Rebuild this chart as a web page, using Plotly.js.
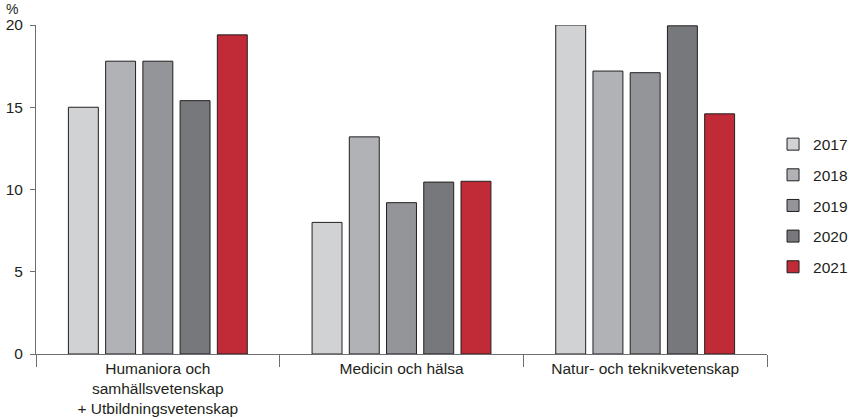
<!DOCTYPE html>
<html>
<head>
<meta charset="utf-8">
<script src="https://cdn.plot.ly/plotly-3.0.1.min.js"></script>
<style>html,body{margin:0;padding:0;background:#fff;}#chart{width:848px;height:417px;}</style>
</head>
<body>
<div id="chart"></div>
<script>
const categories = ["Humaniora och<br>samhällsvetenskap<br>+ Utbildningsvetenskap", "Medicin och hälsa", "Natur- och teknikvetenskap"];
const years = ["2017", "2018", "2019", "2020", "2021"];
const v2017 = [15.0, 8.0, 20.0];
const v2018 = [17.8, 13.2, 17.2];
const v2019 = [17.8, 9.2, 17.1];
const v2020 = [15.4, 10.45, 19.95];
const v2021 = [19.4, 10.5, 14.6];
const yTicks = [0, 5, 10, 15, 20];

const series = [v2017, v2018, v2019, v2020, v2021];
const colors = ["#d1d2d4", "#b1b2b6", "#939598", "#77787b", "#c12a37"];
const txt = "#231f20";

const traces = series.map((vals, i) => ({
  type: "bar",
  name: years[i],
  legendgroup: years[i],
  x: categories,
  y: vals,
  marker: {color: colors[i], line: {color: "#231f20", width: 1}},
  cliponaxis: false,
  hoverinfo: "skip"
}));

const layout = {
  width: 848, height: 417,
  margin: {l: 36, r: 81, t: 25, b: 63},
  paper_bgcolor: "#fff", plot_bgcolor: "#fff",
  font: {family: "Liberation Sans, Arial, sans-serif", size: 15.5, color: txt},
  barmode: "group",
  bargap: 0.236,
  bargroupgap: 0.196,
  showlegend: true,
  legend: {xref: "container", yref: "container", x: 0.9116, xanchor: "left", y: 0.507, yanchor: "middle",
           font: {size: 15.5, color: txt}, tracegroupgap: 7.5, traceorder: "grouped"},
  xaxis: {
    type: "category", range: [-0.5, 2.5], automargin: false,
    showline: true, linecolor: "#6d6e71", linewidth: 1,
    ticks: "outside", tickson: "boundaries", ticklen: 12, tickcolor: "#6d6e71",
    showgrid: false, zeroline: false, fixedrange: true,
    tickfont: {size: 15.5, color: txt}
  },
  yaxis: {
    range: [0, 20], tickvals: yTicks, ticktext: yTicks.map(String), automargin: false,
    showline: true, linecolor: "#6d6e71", linewidth: 1,
    ticks: "outside", ticklen: 5, tickcolor: "#6d6e71", ticklabelstandoff: 4,
    showgrid: false, zeroline: false, fixedrange: true,
    tickfont: {size: 15.5, color: txt}
  },
  annotations: [{
    text: "%", xref: "paper", yref: "paper", x: -0.033, y: 1.0, xanchor: "center", yanchor: "middle",
    yshift: 16, showarrow: false, font: {size: 14, color: txt}
  }]
};

Plotly.newPlot("chart", traces, layout, {displayModeBar: false, staticPlot: true});
</script>
</body>
</html>
